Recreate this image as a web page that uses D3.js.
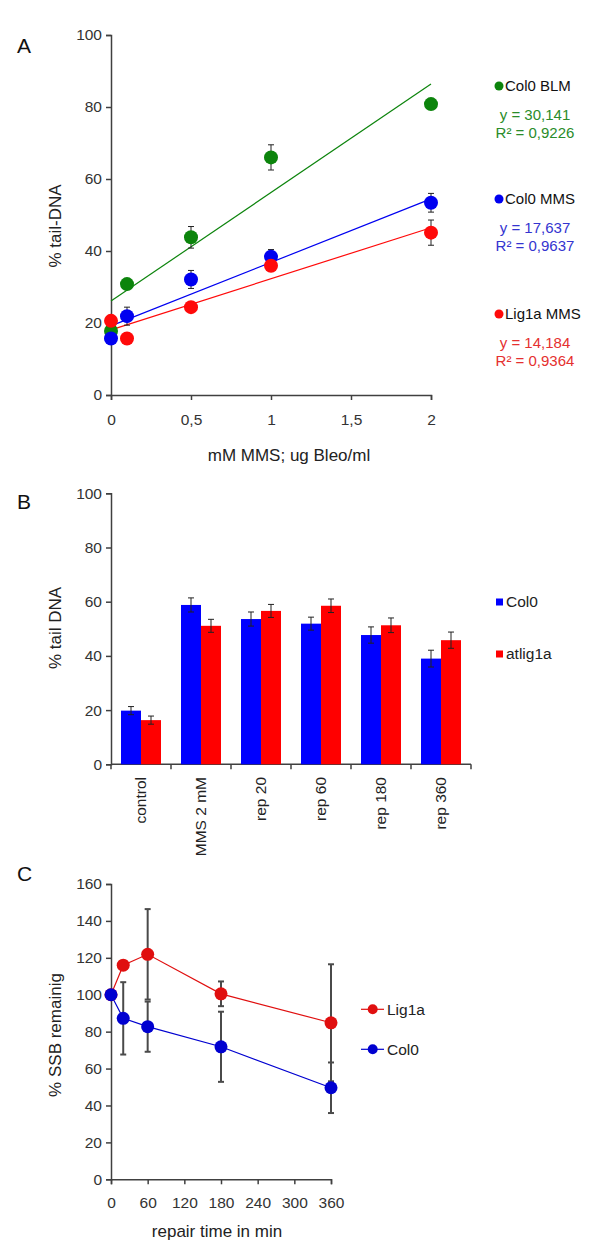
<!DOCTYPE html>
<html><head><meta charset="utf-8">
<script src="https://cdn.jsdelivr.net/npm/d3@7"></script>
<style>
body{margin:0;background:#fff;}
svg{display:block;font-family:"Liberation Sans",Arial,sans-serif;}
</style></head>
<body><svg id="c" width="600" height="1260"></svg>
<script>
// ---------- Panel A data ----------
const doseA = [0, 0.1, 0.5, 1, 2];
const seriesA = ["Col0 BLM", "Col0 MMS", "Lig1a MMS"];
const blmCol0 = [17.8, 30.8, 43.8, 66.0, 80.8];
const blmCol0Err = [0, 1.0, 3.0, 3.5, 0];
const mmsCol0 = [15.7, 21.9, 32.1, 38.4, 53.4];
const mmsCol0Err = [0, 2.5, 2.5, 2.0, 2.6];
const mmsLig1a = [20.6, 15.7, 24.4, 35.9, 45.1];
const mmsLig1aErr = [0, 0, 0, 0, 3.5];
const trendSlopes = [30.141, 17.637, 14.184];
const trendIntercepts = [26.1, 19.2, 18.1];
const eqLabels = ["y = 30,141", "y = 17,637", "y = 14,184"];
const r2Labels = ["R\u00b2 = 0,9226", "R\u00b2 = 0,9637", "R\u00b2 = 0,9364"];
const ticksAy = [0, 20, 40, 60, 80, 100];
const ticksAx = [0, 0.5, 1, 1.5, 2];

// ---------- Panel B data ----------
const categoriesB = ["control", "MMS 2 mM", "rep 20", "rep 60", "rep 180", "rep 360"];
const seriesB = ["Col0", "atlig1a"];
const col0B = [19.8, 58.8, 53.6, 51.9, 47.7, 39.0];
const col0BErr = [1.5, 2.6, 2.6, 2.4, 3.0, 3.1];
const lig1aB = [16.3, 51.1, 56.6, 58.5, 51.3, 45.8];
const lig1aBErr = [1.5, 2.4, 2.4, 2.5, 2.7, 3.0];
const ticksBy = [0, 20, 40, 60, 80, 100];

// ---------- Panel C data ----------
const timeC = [0, 20, 60, 180, 360];
const seriesC = ["Lig1a", "Col0"];
const lig1aC = [100, 116.0, 121.9, 100.5, 84.8];
const lig1aCErr = [0, 0, 24.5, 6.7, 31.7];
const col0C = [100, 87.2, 82.7, 71.8, 49.6];
const col0CErr = [0, 19.6, 13.6, 19.0, 13.7];
const ticksCy = [0, 20, 40, 60, 80, 100, 120, 140, 160];
const ticksCx = [0, 60, 120, 180, 240, 300, 360];

const svg = d3.select("#c");
const AX = "#404040", TXT = "#333";
const TICKFS = 15.5, TITLEFS = 17;

function styleAxis(g){
  g.select(".domain").attr("stroke", AX).attr("stroke-width", 1.5);
  g.selectAll(".tick line").attr("stroke", AX).attr("stroke-width", 1.5);
  g.selectAll(".tick text").attr("fill", TXT).attr("font-size", TICKFS).attr("font-family", "Liberation Sans, Arial, sans-serif");
}
function panelLabel(t, x, y){
  svg.append("text").attr("x", x).attr("y", y).attr("font-size", 21).attr("fill", "#111").text(t);
}
function yTitle(t, x, y){
  svg.append("text").attr("transform", `translate(${x},${y}) rotate(-90)`).attr("text-anchor", "middle")
    .attr("dy", "0.35em").attr("font-size", TITLEFS).attr("fill", "#222").text(t);
}
function errBars(g, xs, ys, es, xS, yS, color, width, cap){
  xs.forEach((x, i) => {
    if (!es[i]) return;
    const px = xS(x), y1 = yS(ys[i] - es[i]), y2 = yS(ys[i] + es[i]);
    g.append("line").attr("x1", px).attr("x2", px).attr("y1", y1).attr("y2", y2).attr("stroke", color).attr("stroke-width", width);
    [y1, y2].forEach(yy => g.append("line").attr("x1", px - cap).attr("x2", px + cap).attr("y1", yy).attr("y2", yy).attr("stroke", color).attr("stroke-width", width));
  });
}

// ================= PANEL A =================
panelLabel("A", 17, 53);
const xA = d3.scaleLinear().domain([0, 2]).range([111, 431]);
const yA = d3.scaleLinear().domain([0, 100]).range([395, 35]);
svg.append("g").attr("transform", "translate(111,0)")
  .call(d3.axisLeft(yA).tickValues(ticksAy).tickSize(5).tickPadding(4)).call(styleAxis);
svg.append("g").attr("transform", "translate(0,395)")
  .call(d3.axisBottom(xA).tickValues(ticksAx).tickSize(5).tickPadding(14).tickFormat(d => String(d).replace(".", ","))).call(styleAxis);
yTitle("% tail-DNA", 55, 226);
svg.append("text").attr("x", 289).attr("y", 461).attr("text-anchor", "middle").attr("font-size", TITLEFS).attr("fill", "#222")
  .text("mM MMS; ug Bleo/ml");

const colA = ["#0c840c", "#0000f0", "#ff0a0a"];
const eqCol = ["#2a8c2a", "#3434d0", "#e53030"];
const valsA = [blmCol0, mmsCol0, mmsLig1a];
const errsA = [blmCol0Err, mmsCol0Err, mmsLig1aErr];
const gA = svg.append("g");
seriesA.forEach((s, k) => {
  gA.append("line").attr("x1", xA(0)).attr("x2", xA(2))
    .attr("y1", yA(trendIntercepts[k])).attr("y2", yA(trendIntercepts[k] + trendSlopes[k] * 2))
    .attr("stroke", colA[k]).attr("stroke-width", 1.2);
});
seriesA.forEach((s, k) => {
  errBars(gA, doseA, valsA[k], errsA[k], xA, yA, "#222", 1, 3);
  gA.selectAll(null).data(doseA).enter().append("circle")
    .attr("cx", d => xA(d)).attr("cy", (d, i) => yA(valsA[k][i])).attr("r", 7).attr("fill", colA[k]);
});
const legAy = [86, 199, 314];
seriesA.forEach((s, k) => {
  svg.append("circle").attr("cx", 499).attr("cy", legAy[k]).attr("r", 4.5).attr("fill", colA[k]);
  svg.append("text").attr("x", 505).attr("y", legAy[k]).attr("dy", "0.35em").attr("font-size", 15).attr("fill", "#111").text(s);
  svg.append("text").attr("x", 535).attr("y", legAy[k] + 29).attr("dy", "0.35em").attr("text-anchor", "middle").attr("font-size", 15).attr("fill", eqCol[k]).text(eqLabels[k]);
  svg.append("text").attr("x", 535).attr("y", legAy[k] + 47).attr("dy", "0.35em").attr("text-anchor", "middle").attr("font-size", 15).attr("fill", eqCol[k]).text(r2Labels[k]);
});

// ================= PANEL B =================
panelLabel("B", 17, 509);
const xB = d3.scaleBand().domain(categoriesB).range([111, 471]).paddingInner(1/3).paddingOuter(1/6);
const xBi = d3.scaleBand().domain(seriesB).range([0, xB.bandwidth()]);
const yB = d3.scaleLinear().domain([0, 100]).range([764.3, 493.3]);
svg.append("g").attr("transform", "translate(111,0)")
  .call(d3.axisLeft(yB).tickValues(ticksBy).tickSize(5).tickPadding(4)).call(styleAxis);
const gBx = svg.append("g");
gBx.append("line").attr("x1", 111).attr("x2", 471).attr("y1", yB(0)).attr("y2", yB(0)).attr("stroke", AX).attr("stroke-width", 1.5);
const bounds = categoriesB.map(c => xB(c) - xB.step() * xB.paddingInner() / 2).concat([471]);
bounds.forEach(b => gBx.append("line").attr("x1", b).attr("x2", b).attr("y1", yB(0)).attr("y2", yB(0) + 5).attr("stroke", AX).attr("stroke-width", 1.5));
const colB = ["#0000ff", "#ff0000"];
const valsB = [col0B, lig1aB], errsB = [col0BErr, lig1aBErr];
seriesB.forEach((s, k) => {
  svg.append("g").selectAll("rect").data(categoriesB).enter().append("rect")
    .attr("x", d => xB(d) + xBi(s)).attr("width", xBi.bandwidth())
    .attr("y", (d, i) => yB(valsB[k][i])).attr("height", (d, i) => yB(0) - yB(valsB[k][i]))
    .attr("fill", colB[k]);
});
seriesB.forEach((s, k) => {
  const g = svg.append("g");
  categoriesB.forEach((c, i) => {
    const px = xB(c) + xBi(s) + xBi.bandwidth() / 2;
    const y1 = yB(valsB[k][i] - errsB[k][i]), y2 = yB(valsB[k][i] + errsB[k][i]);
    g.append("line").attr("x1", px).attr("x2", px).attr("y1", y1).attr("y2", y2).attr("stroke", "#222").attr("stroke-width", 1);
    [y1, y2].forEach(yy => g.append("line").attr("x1", px - 3).attr("x2", px + 3).attr("y1", yy).attr("y2", yy).attr("stroke", "#222").attr("stroke-width", 1));
  });
});
categoriesB.forEach(c => {
  svg.append("text").attr("transform", `translate(${xB(c) + xB.bandwidth() / 2},777) rotate(-90)`)
    .attr("text-anchor", "end").attr("dy", "0.35em").attr("font-size", TICKFS).attr("fill", "#222").text(c);
});
yTitle("% tail DNA", 55, 628);
const legBy = [602, 654];
seriesB.forEach((s, k) => {
  svg.append("rect").attr("x", 496).attr("y", legBy[k] - 3.5).attr("width", 7).attr("height", 7).attr("fill", colB[k]);
  svg.append("text").attr("x", 506).attr("y", legBy[k]).attr("dy", "0.35em").attr("font-size", 15.5).attr("fill", "#222").text(s);
});

// ================= PANEL C =================
panelLabel("C", 17, 881);
const xC = d3.scaleLinear().domain([0, 360]).range([111, 331]);
const yC = d3.scaleLinear().domain([0, 160]).range([1179.3, 884]);
svg.append("g").attr("transform", "translate(111,0)")
  .call(d3.axisLeft(yC).tickValues(ticksCy).tickSize(5).tickPadding(4)).call(styleAxis);
svg.append("g").attr("transform", "translate(0,1179.3)")
  .call(d3.axisBottom(xC).tickValues(ticksCx).tickSize(5).tickPadding(13)).call(styleAxis);
yTitle("% SSB remainig", 55, 1035);
svg.append("text").attr("x", 217).attr("y", 1237).attr("text-anchor", "middle").attr("font-size", TITLEFS).attr("fill", "#222").text("repair time in min");
const colC = ["#e00f0f", "#0000d0"];
const valsC = [lig1aC, col0C], errsC = [lig1aCErr, col0CErr];
const gC = svg.append("g");
seriesC.forEach((s, k) => errBars(gC, timeC, valsC[k], errsC[k], xC, yC, "#4a4a4a", 2, 3));
const lineC = d3.line().x(d => xC(d[0])).y(d => yC(d[1]));
seriesC.forEach((s, k) => {
  gC.append("path").attr("d", lineC(timeC.map((t, i) => [t, valsC[k][i]]))).attr("fill", "none").attr("stroke", colC[k]).attr("stroke-width", 1.2);
});
seriesC.forEach((s, k) => {
  gC.selectAll(null).data(timeC).enter().append("circle")
    .attr("cx", d => xC(d)).attr("cy", (d, i) => yC(valsC[k][i])).attr("r", 6.5).attr("fill", colC[k]);
});
const legCy = [1009.3, 1049.3];
seriesC.forEach((s, k) => {
  svg.append("line").attr("x1", 361).attr("x2", 384).attr("y1", legCy[k]).attr("y2", legCy[k]).attr("stroke", colC[k]).attr("stroke-width", 1.2);
  svg.append("circle").attr("cx", 372.7).attr("cy", legCy[k]).attr("r", 5).attr("fill", colC[k]);
  svg.append("text").attr("x", 387).attr("y", legCy[k]).attr("dy", "0.35em").attr("font-size", 15.5).attr("fill", "#222").text(s);
});
</script></body></html>
